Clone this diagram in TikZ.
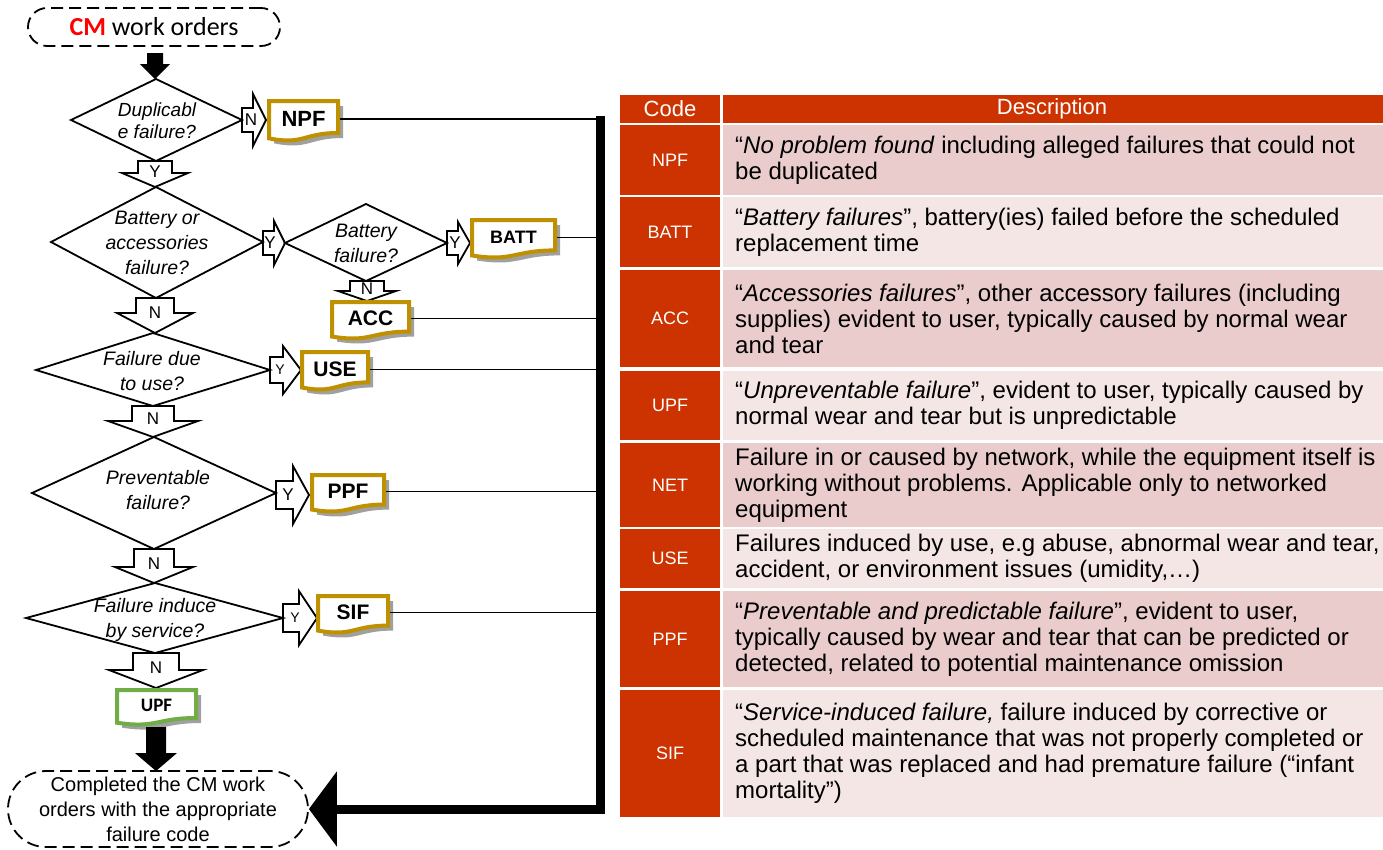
\documentclass[tikz,border=0pt]{standalone}
\usepackage{fontspec}
\setmainfont{Liberation Sans}
\newfontfamily\calibri{Carlito}
\usetikzlibrary{arrows.meta}
\definecolor{codered}{RGB}{204,51,0}
\definecolor{rowdark}{RGB}{233,204,203}
\definecolor{rowlight}{RGB}{244,230,229}
\definecolor{docgold}{RGB}{191,144,0}
\definecolor{docgreen}{RGB}{112,173,71}
\definecolor{shadowgray}{RGB}{160,160,160}
\newcommand{\fs}[2]{\fontsize{#1}{#2}\selectfont}

% document-shaped result box: name, x, y, width, height, border colour, font, text
\newcommand{\docbox}[8]{%
  \fill[shadowgray] ({#2+5},{#3+5}) -- ({#2+#4+5},{#3+5}) -- ({#2+#4+5},{#3+5+0.8*#5})
    .. controls ({#2+0.5*#4+5},{#3+5+0.8*#5}) and ({#2+0.5*#4+5},{#3+5+1.107*#5}) .. ({#2+5},{#3+5+0.934*#5}) -- cycle;
  \draw[#6, line width=4pt, fill=white, line join=miter] (#2,#3) -- ({#2+#4},#3) -- ({#2+#4},{#3+0.8*#5})
    .. controls ({#2+0.5*#4},{#3+0.8*#5}) and ({#2+0.5*#4},{#3+1.107*#5}) .. (#2,{#3+0.934*#5}) -- cycle;
  \node[font=#7, inner sep=0pt, minimum width=#4pt] (#1) at ({#2+0.5*#4},{#3+0.45*#5}) {#8};}

% outlined block arrow pointing right: cy, x0, x1 (shaft end), x2 (tip), shaft half, head half, name, label, label x
\newcommand{\rblock}[9]{%
  \draw[blockarrow] (#2,{#1-#5}) -- (#3,{#1-#5}) -- (#3,{#1-#6}) -- (#4,#1) -- (#3,{#1+#6}) -- (#3,{#1+#5}) -- (#2,{#1+#5}) -- cycle;
  \node[yn] (#7) at (#9,#1) {#8};}

% outlined block arrow pointing down: cx, y0, y1 (shaft end), y2 (tip), shaft half, head half, name, label, label y
\newcommand{\dblock}[9]{%
  \draw[blockarrow] ({#1-#5},#2) -- ({#1+#5},#2) -- ({#1+#5},#3) -- ({#1+#6},#3) -- (#1,#4) -- ({#1-#6},#3) -- ({#1-#5},#3) -- cycle;
  \node[yn] (#7) at (#1,#9) {#8};}

% decision diamond: cx, cy, left, right, top, bottom
\newcommand{\decision}[6]{%
  \draw[dia] (#3,#2) -- (#1,#5) -- (#4,#2) -- (#1,#6) -- cycle;}

\begin{document}
\begin{tikzpicture}[x=1pt,y=-1pt,
  dia/.style={draw, line width=1.8pt, line join=miter},
  qtext/.style={font=\fs{19.5}{25}\itshape, align=center, inner sep=0pt},
  blockarrow/.style={draw, line width=1.8pt, line join=miter},
  yn/.style={font=\fs{17}{17}, inner sep=0pt},
  capsule/.style={draw, dash pattern=on 12pt off 6pt, line width=1.8pt, align=center, inner sep=0pt},
  feed/.style={line width=1.2pt, shorten <=2pt},
  solidarrow/.style={fill=black},
  cell/.style={inner sep=0pt, anchor=west, align=left, font=\fs{24}{26}},
  codetext/.style={inner sep=0pt, text=white, font=\fs{18}{20}},
]
\useasboundingbox (0,0) rectangle (1383,849);

% ---------- start and end terminals ----------
\node[capsule, rounded corners=19pt, minimum width=252pt, minimum height=38pt]
  (start) at (154,27) {\calibri\fs{26}{30}{\color{red}\bfseries CM} work orders};
\node[capsule, rounded corners=38pt, minimum width=300pt, minimum height=76pt, font=\fs{20}{25}]
  (finish) at (158,809) {Completed the CM work\\orders with the appropriate\\failure code};

\fill[solidarrow] (147,53) -- (163,53) -- (163,64) -- (170,64) -- (155,79) -- (140,64) -- (147,64) -- cycle;

% ---------- decisions ----------
\decision{156}{120}{71}{242}{79}{161}
\node[qtext, font=\fs{19}{22}\itshape] (q1) at (157,121) {Duplicabl\\e failure?};
\decision{156}{242}{51}{263}{187}{298}
\node[qtext] (q2) at (157,243) {Battery or\\accessories\\failure?};
\decision{366}{243}{285}{447}{204}{281}
\node[qtext] (q3) at (366,243) {Battery\\failure?};
\decision{153}{370}{36}{270}{333}{406}
\node[qtext] (q4) at (152,371) {Failure due\\to use?};
\decision{154}{493}{32}{276}{437}{549}
\node[qtext] (q5) at (158,490) {Preventable\\failure?};
\decision{155}{618}{26}{283}{583}{653}
\node[qtext] (q6) at (155,620) {Failure induce\\by service?};

% ---------- yes / no block arrows ----------
\rblock{120}{242}{253}{266}{12}{26}{n1}{N}{251}
\dblock{155}{161}{173}{187}{17}{33}{y1}{Y}{172}
\rblock{243}{263}{274}{285}{12}{22}{y2}{Y}{270}
\rblock{243}{447}{458}{470}{12}{21}{y3}{Y}{455}
\dblock{367}{281}{291}{301}{17}{29}{n3}{N}{289}
\dblock{155}{298}{313}{333}{19}{38}{n2}{N}{313}
\rblock{370}{270}{283}{301}{13}{24}{y4}{\fs{14}{14}Y}{280}
\dblock{153}{406}{421}{437}{21}{45}{n4}{N}{419}
\rblock{495}{276}{293}{309}{14}{29}{y5}{Y}{288}
\dblock{154}{549}{567}{583}{20}{39}{n5}{N}{564}
\rblock{618}{283}{299}{317}{14}{27}{y6}{\fs{14}{14}Y}{295}
\dblock{156}{653}{670}{688}{23}{47}{n6}{N}{668}

% ---------- failure codes ----------
\docbox{npf}{269}{101}{69}{40}{docgold}{\bfseries\fs{22}{22}}{NPF}
\docbox{batt}{472}{220}{83}{38}{docgold}{\bfseries\fs{18}{18}}{BATT}
\docbox{acc}{332}{302}{77}{37}{docgold}{\bfseries\fs{21}{21}}{ACC}
\docbox{use}{302}{352}{66}{38}{docgold}{\bfseries\fs{21}{21}}{USE}
\docbox{ppf}{312}{475}{72}{37}{docgold}{\bfseries\fs{21}{21}}{PPF}
\docbox{sif}{318}{596}{70}{37}{docgold}{\bfseries\fs{21}{21}}{SIF}
\docbox{upf}{117}{690}{79}{35}{docgreen}{\calibri\bfseries\fs{19}{19}}{UPF}

\fill[solidarrow] (146,727) -- (166,727) -- (166,753) -- (177,753) -- (156,771) -- (135,753) -- (146,753) -- cycle;

% ---------- collector bar back to the end terminal ----------
\coordinate (bar) at (600,116);
\foreach \code in {npf,batt,acc,use,ppf,sif}
  \draw[feed] (\code.east) -- (\code.east -| bar);
\draw[line width=9pt, -{Triangle[length=28pt,width=74pt]}] (bar) |- (finish.east);

% ---------- code table ----------
\fill[codered] (620,95) rectangle (720,123);
\fill[codered] (723,95) rectangle (1383,123);
\node[codetext, font=\fs{22}{24}] (hcode) at (670,109) {Code};
\node[codetext, font=\fs{22}{24}] (hdesc) at (1052,109) {Description};

\fill[codered] (620,125) rectangle (720,195);  \fill[rowdark]  (723,125) rectangle (1383,195);
\fill[codered] (620,197) rectangle (720,267);  \fill[rowlight] (723,197) rectangle (1383,267);
\fill[codered] (620,270) rectangle (720,367);  \fill[rowdark]  (723,270) rectangle (1383,367);
\fill[codered] (620,371) rectangle (720,440);  \fill[rowlight] (723,371) rectangle (1383,440);
\fill[codered] (620,443) rectangle (720,527);  \fill[rowdark]  (723,443) rectangle (1383,527);
\fill[codered] (620,529) rectangle (720,588);  \fill[rowlight] (723,529) rectangle (1383,588);
\fill[codered] (620,591) rectangle (720,687);  \fill[rowdark]  (723,591) rectangle (1383,687);
\fill[codered] (620,690) rectangle (720,817);  \fill[rowlight] (723,690) rectangle (1383,817);

\node[codetext] (k1) at (670,160) {NPF};
\node[codetext] (k2) at (670,232) {BATT};
\node[codetext] (k3) at (670,318.5) {ACC};
\node[codetext] (k4) at (670,405.5) {UPF};
\node[codetext] (k5) at (670,485) {NET};
\node[codetext] (k6) at (670,558.5) {USE};
\node[codetext] (k7) at (670,639) {PPF};
\node[codetext] (k8) at (670,753.5) {SIF};

\node[cell] (d1) at (735,160) {“\textit{No problem found} including alleged failures that could not\\be duplicated};
\node[cell] (d2) at (735,232) {“\textit{Battery failures}”, battery(ies) failed before the scheduled\\replacement time};
\node[cell] (d3) at (735,318.5) {“\textit{Accessories failures}”, other accessory failures (including\\supplies) evident to user, typically caused by normal wear\\and tear};
\node[cell] (d4) at (735,405.5) {“\textit{Unpreventable failure}”, evident to user, typically caused by\\normal wear and tear but is unpredictable};
\node[cell] (d5) at (735,485) {Failure in or caused by network, while the equipment itself is\\working without problems. Applicable only to networked\\equipment};
\node[cell] (d6) at (735,558.5) {Failures induced by use, e.g abuse, abnormal wear and tear,\\accident, or environment issues (umidity,…)};
\node[cell] (d7) at (735,639) {“\textit{Preventable and predictable failure}”, evident to user,\\typically caused by wear and tear that can be predicted or\\detected, related to potential maintenance omission};
\node[cell] (d8) at (735,753.5) {“\textit{Service-induced failure,} failure induced by corrective or\\scheduled maintenance that was not properly completed or\\a part that was replaced and had premature failure (“infant\\mortality”)};
\end{tikzpicture}
\end{document}
